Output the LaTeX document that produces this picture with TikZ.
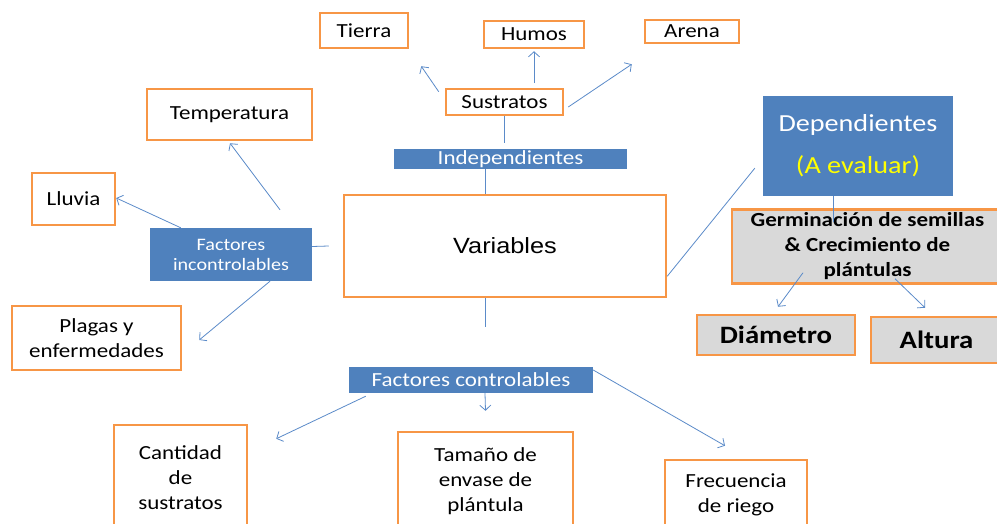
\documentclass[tikz,border=0pt]{standalone}
\usepackage{fontspec}
\setmainfont[FakeStretch=1.15]{Carlito}
\newfontfamily\arialf[FakeStretch=1.15]{Liberation Sans}
\usetikzlibrary{arrows.meta,calc}
\definecolor{orangeC}{HTML}{F79646}
\definecolor{blueC}{HTML}{4F81BD}
\definecolor{lineC}{HTML}{5B8BC9}
\definecolor{grayC}{HTML}{D9D9D9}
\definecolor{yellowC}{HTML}{FFFF00}
\newcommand\fsz[2]{\fontsize{#1}{#2}\selectfont}
\tikzset{
  obox/.style={draw=orangeC, line width=2.5pt, fill=white, align=center, inner sep=0pt, font=\fsz{20}{25}},
  gbox/.style={obox, fill=grayC},
  bbox/.style={fill=blueC, text=white, align=center, inner sep=0pt, font=\fsz{20}{25}},
  arr/.style={draw=lineC, line width=0.8pt, -{Straight Barb[length=5pt,width=11pt]}},
  ln/.style={draw=lineC, line width=0.8pt},
}
\begin{document}
\begin{tikzpicture}[x=1pt,y=-1pt]
\clip (0,0) rectangle (997,524);
\fill[white] (0,0) rectangle (997,524);
% top
\node[obox, minimum width=88pt, minimum height=35pt] (tierra) at (364,30.5) {Tierra};
\node[obox, minimum width=100pt, minimum height=27pt] (humos) at (534,34.5) {Humos};
\node[obox, minimum width=94pt, minimum height=23pt] (arena) at (692,31.5) {Arena};
\node[obox, minimum width=117pt, minimum height=26pt] (sus) at (504.5,102) {Sustratos};
\node[bbox, minimum width=233pt, minimum height=20pt] (ind) at (510.5,159) {Independientes};
% left
\node[obox, minimum width=165pt, minimum height=51pt] (temp) at (229.5,114.5) {Temperatura};
\node[obox, minimum width=83pt, minimum height=52pt] (lluvia) at (73.5,199) {Lluvia};
\node[bbox, minimum width=162pt, minimum height=53pt, font=\fsz{17.5}{20}] (facinc) at (231,254.5) {Factores\\incontrolables};
\node[obox, minimum width=169pt, minimum height=64pt] (plagas) at (96.5,338) {Plagas y\\enfermedades};
% center
\node[obox, minimum width=322pt, minimum height=102pt, font=\arialf\fsz{22}{26}] (var) at (505,246) {Variables};
% right
\node[bbox, minimum width=190pt, minimum height=100pt, font=\fsz{24.5}{42}] (dep) at (858,146) {Dependientes\\\textcolor{yellowC}{(A evaluar)}};
\node[gbox, minimum width=271pt, minimum height=74pt, font=\bfseries\fsz{20}{25}] (germ) at (867.5,246.5) {Germinación de semillas\\\& Crecimiento de\\plántulas};
\node[gbox, minimum width=158pt, minimum height=40pt, font=\bfseries\fsz{25}{28}] (diam) at (776,335) {Diámetro};
\node[gbox, minimum width=131pt, minimum height=46pt, font=\bfseries\fsz{25}{28}] (alt) at (936.5,340) {Altura};
% bottom
\node[bbox, minimum width=244pt, minimum height=26pt, font=\fsz{20}{22}] (faccon) at (471,380) {Factores controlables};
\node[obox, minimum width=133pt, minimum height=105pt] (cant) at (180.5,477.5) {Cantidad\\de\\sustratos};
\node[obox, minimum width=175pt, minimum height=98pt] (tam) at (485.5,481) {Tamaño de\\envase de\\plántula};
\node[obox, minimum width=142pt, minimum height=70pt] (frec) at (736,495) {Frecuencia\\de riego};
% connectors
\draw[arr] ($(sus.north west)+(-6,4)$) -- ($(tierra.south east)+(12,17)$);
\draw[arr] ($(humos.south)+(0,34)$) -- ($(humos.south)+(0,2)$);
\draw[arr] ($(sus.east)+(4,5)$) -- ($(arena.south west)+(-12,20)$);
\draw[ln] (sus.south) -- ($(ind.north)+(-6,-6)$);
\draw[ln] ($(ind.south)+(-25.5,0)$) -- ($(var.north)+(-20,0)$);
\draw[arr] ($(facinc.north)+(49,-18)$) -- ($(temp.south)+(0.5,2)$);
\draw[arr] ($(facinc.north west)+(31,0)$) -- ($(lluvia.east)+(0,-1)$);
\draw[arr] ($(facinc.south)+(39,0)$) -- ($(plagas.east)+(17,2)$);
\draw[ln] ($(facinc.east)+(0,-8)$) -- ($(var.west)+(-14,0)$);
\draw[ln] ($(var.south east)+(0,-22)$) -- ($(dep.south west)+(-8,-28)$);
\draw[ln] ($(dep.south)+(-25,0)$) -- ($(germ.north)+(-34.5,14)$);
\draw[arr] ($(germ.south)+(-64.5,-12)$) -- ($(diam.north)+(2,-7)$);
\draw[arr] ($(germ.south)+(27.5,-6)$) -- ($(alt.north)+(-11.5,-8)$);
\draw[ln] ($(var.south)+(-20,0)$) -- ($(faccon.north)+(14,-40)$);
\draw[arr] ($(faccon.south west)+(17,3)$) -- ($(cant.north east)+(28,15)$);
\draw[arr] ($(faccon.south)+(14,0)$) -- ($(tam.north)+(0,-20)$);
\draw[arr] ($(faccon.east)+(0,-10)$) -- ($(frec.north)+(-11,-13)$);
\end{tikzpicture}
\end{document}
